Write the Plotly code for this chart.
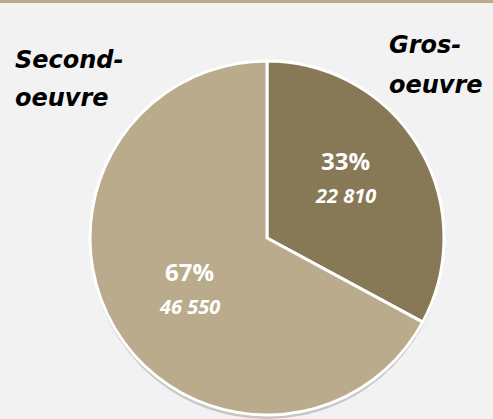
import plotly.graph_objects as go

# chart data
labels = ["Gros-oeuvre", "Second-oeuvre"]
values = [22810, 46550]
pct_text = ["33%", "67%"]
value_text = ["22 810", "46 550"]
colors = ["#877856", "#b9ab8b"]

W, H = 493, 419
L, R, T, B = 90, 49, 61, 0
PW, PH = W - L - R, H - T - B
SH = 4  # shadow offset in px


def px(x, y):
    # pixel position -> paper coordinates
    return (x - L) / PW, (H - B - y) / PH


# soft shadow behind the pie
fig = go.Figure(go.Pie(
    values=[1],
    sort=False,
    marker=dict(colors=["rgba(0,0,0,0.18)"], line=dict(width=0)),
    textinfo="none",
    hoverinfo="skip",
    showlegend=False,
    domain=dict(x=[0, 1], y=[0, 1 - SH / PH]),
))
fig.add_trace(go.Pie(
    labels=labels,
    values=values,
    sort=False,
    direction="clockwise",
    rotation=0,
    marker=dict(colors=colors, line=dict(color="white", width=3)),
    textinfo="none",
    hoverinfo="label+value+percent",
    showlegend=False,
    domain=dict(x=[0, 1], y=[SH / PH, 1]),
))

annotations = []
# category labels outside the pie
outer = [
    ("<i><b>Gros-</b></i>", 387, 45),
    ("<i><b>oeuvre</b></i>", 387, 85),
    ("<i><b>Second-</b></i>", 13, 60),
    ("<i><b>oeuvre</b></i>", 13, 98),
]
for text, x, y in outer:
    ax, ay = px(x, y)
    annotations.append(dict(
        text=text, x=ax, y=ay, xref="paper", yref="paper",
        xanchor="left", yanchor="middle", showarrow=False,
        font=dict(family="DejaVu Sans", size=24, color="black"),
    ))

# percentages and values inside slices
inside_pos = [(345, 160, 195), (189, 271, 306)]
for (x, y1, y2), p, v in zip(inside_pos, pct_text, value_text):
    ax, ay = px(x, y1)
    annotations.append(dict(
        text=f"<b>{p}</b>", x=ax, y=ay, xref="paper", yref="paper",
        xanchor="center", yanchor="middle",
        showarrow=False, font=dict(family="Open Sans", size=24, color="white"),
    ))
    ax, ay = px(x, y2)
    annotations.append(dict(
        text=f"<b><i>{v}</i></b>", x=ax, y=ay, xref="paper", yref="paper",
        xanchor="center", yanchor="middle",
        showarrow=False, font=dict(family="Open Sans", size=20, color="white"),
    ))

x0, y0 = px(0, 0)
x1, y1 = px(W, 3)
fig.update_layout(
    width=W, height=H,
    margin=dict(l=L, r=R, t=T, b=B),
    paper_bgcolor="#f2f2f2",
    plot_bgcolor="#f2f2f2",
    annotations=annotations,
    shapes=[dict(type="rect", xref="paper", yref="paper",
                 x0=x0, x1=x1, y0=y1, y1=y0,
                 fillcolor="#b9ab8b", line=dict(width=0))],
)

fig.write_html("out.html", config={"displayModeBar": False},
               post_script="document.body.style.margin='0';")
